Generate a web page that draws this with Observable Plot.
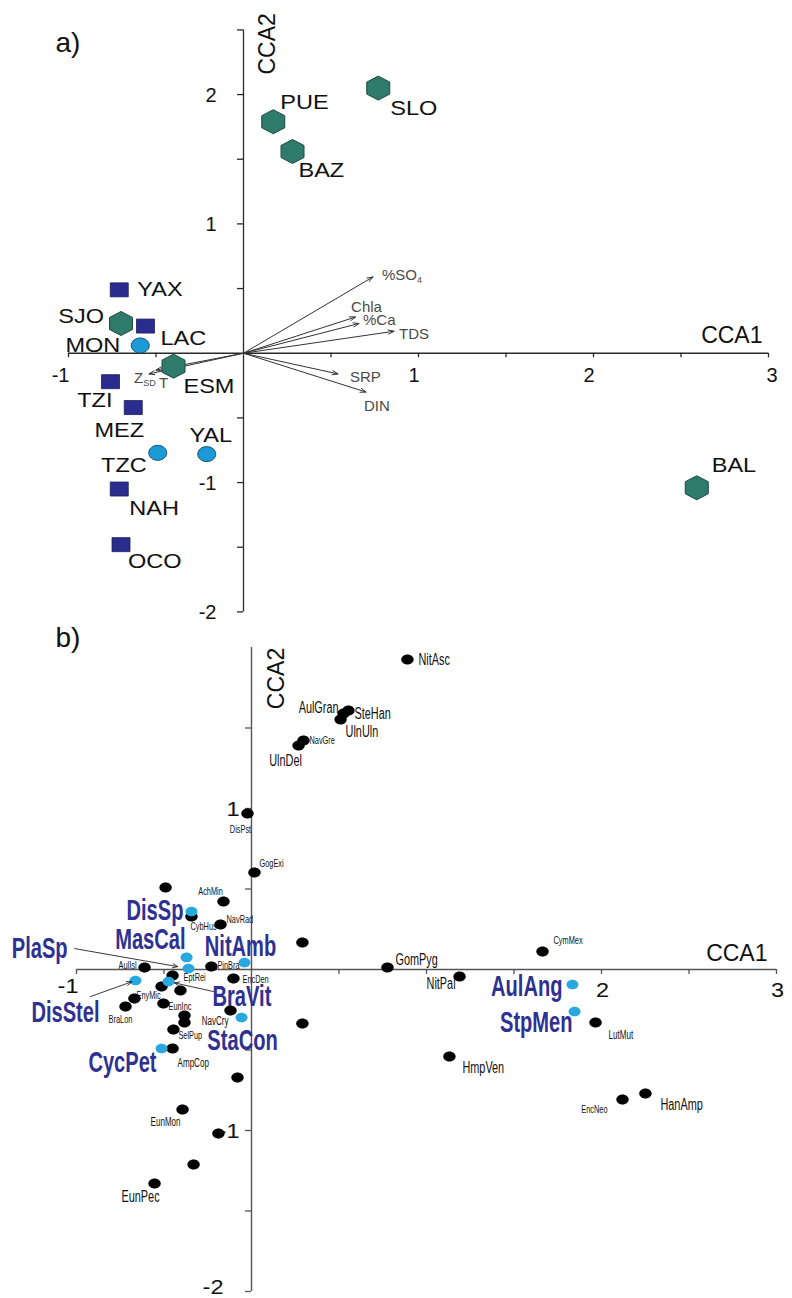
<!DOCTYPE html>
<html><head><meta charset="utf-8">
<script src="https://cdn.jsdelivr.net/npm/d3@7"></script>
<script src="https://cdn.jsdelivr.net/npm/@observablehq/plot@0.6"></script>
<style>
html,body{margin:0;padding:0;background:#fff;}
#wrap{position:relative;width:792px;height:1298px;overflow:hidden;}
#a{position:absolute;left:0;top:0;}
#b{position:absolute;left:0;top:620px;}
svg{overflow:visible;}
</style>
</head><body><div id="wrap"><div id="a"></div><div id="b"></div></div>
<script>
// ---------- DATA: panel a (sites + environmental vectors) ----------
const siteNames = ["SLO","PUE","BAZ","SJO","ESM","BAL","YAX","LAC","TZI","MEZ","NAH","OCO","MON","TZC","YAL"];
const siteCCA1  = [0.77, 0.17, 0.28, -0.70, -0.40, 2.59, -0.71, -0.56, -0.76, -0.63, -0.71, -0.70, -0.59, -0.49, -0.21];
const siteCCA2  = [2.05, 1.79, 1.56, 0.23, -0.10, -1.04, 0.49, 0.21, -0.22, -0.42, -1.05, -1.48, 0.06, -0.77, -0.78];
const siteGroup = ["hex","hex","hex","hex","hex","hex","square","square","square","square","square","square","circle","circle","circle"];

const envNames = ["%SO4","Chla","%Ca","TDS","SRP","DIN","ZSD","T"];
const envCCA1  = [0.74, 0.64, 0.66, 0.86, 0.54, 0.70, -0.54, -0.50];
const envCCA2  = [0.59, 0.28, 0.23, 0.17, -0.16, -0.30, -0.16, -0.13];

// ---------- DATA: panel b (species) ----------
const spNames = ["NitAsc","AulGran","SteHan","UlnUln","NavGre","UlnDel","DisPst","GogExi","","AchMin","CybHus","NavRad","",
  "PinBra","AulIsl","EptRei","EncDen","EnyMic","","","BraLon","EunInc","NavCry","","","SelPup","AmpCop","","EunMon","","","EunPec","",
  "GomPyg","NitPal","CymMex","LutMut","HmpVen","EncNeo","HanAmp"];
const spCCA1 = [0.891,0.526,0.554,0.509,0.297,0.269,-0.023,0.017,-0.491,-0.160,-0.343,-0.177,0.291,
  -0.229,-0.611,-0.451,-0.103,-0.514,-0.406,-0.669,-0.720,-0.503,-0.120,-0.383,-0.383,-0.446,-0.451,-0.080,-0.394,-0.189,-0.331,-0.554,0.291,
  0.777,1.189,1.663,1.966,1.131,2.120,2.251];
const spCCA2 = [1.925,1.590,1.609,1.553,1.422,1.391,0.969,0.602,0.509,0.422,0.329,0.280,0.168,
  0.019,0.012,-0.037,-0.056,-0.106,-0.130,-0.180,-0.230,-0.211,-0.255,-0.286,-0.329,-0.373,-0.491,-0.671,-0.870,-1.019,-1.211,-1.329,-0.335,
  0.012,-0.043,0.112,-0.329,-0.540,-0.807,-0.770];

const keyNames = ["DisSp","MasCal","PlaSp","NitAmb","DisStel","BraVit","StaCon","CycPet","AulAng","StpMen"];
const keyCCA1  = [-0.343,-0.371,-0.360,-0.040,-0.663,-0.474,-0.057,-0.514,1.834,1.846];
const keyCCA2  = [0.360,0.075,0.006,0.043,-0.068,-0.075,-0.298,-0.491,-0.093,-0.261];

// ---------- tick values / labels ----------
const xTicksA = [-1,-0.5,0.5,1,1.5,2,2.5,3];
const yTicksA = [-2,-1.5,-1,-0.5,0.5,1,1.5,2,2.5];
const xTickLabelsA = [-1,1,2,3];
const yTickLabelsA = [2,1,-1,-2];
const xTicksB = [-1,-0.5,0.5,1,1.5,2,2.5,3];
const yTicksB = [-2,-1.5,-1,-0.5,0.5,1,1.5];
const xTickLabelsB = [-1,2,3];
const yTickLabelsB = [1,-1,-2];

// ---------- layout / style (not data) ----------
const F = "Liberation Sans, Arial, Helvetica, sans-serif";
const pxA = {x: 175, y: 129.24};
const pxB = {x: 175, y: 161};

const labelA = {SLO:["start",12,20], PUE:["start",7,-19], BAZ:["start",6,19], SJO:["end",-17,-7], ESM:["start",10,20],
  BAL:["start",15,-22], YAX:["start",18,-1], LAC:["start",15,12], TZI:["end",2,19], MEZ:["middle",-14,23],
  NAH:["start",10,19], OCO:["start",7,17], MON:["end",-20,0], TZC:["end",-11,12], YAL:["middle",4,-19]};
const envLabel = {"%SO4":["start",9,-2], Chla:["middle",11,-10], "%Ca":["start",4,-3], TDS:["start",5,3],
  SRP:["start",12,3], DIN:["start",-2,14], ZSD:["start",-15,4], T:["start",3,13]};

const spLabel = {NitAsc:["start",11,0,16], AulGran:["end",-5,-6,16], SteHan:["start",6,3,16], UlnUln:["start",5,12,16],
  NavGre:["start",6,0,11], UlnDel:["middle",-13,15,16], DisPst:["middle",-7,16,11], GogExi:["start",5,-9,11],
  AchMin:["middle",-13,-10,11], CybHus:["start",-1,10,11], NavRad:["start",6,-5,11], PinBra:["start",6,-1,11],
  AulIsl:["end",-8,-2,11], EptRei:["start",11,2,11], EncDen:["start",9,1,11], EnyMic:["middle",-13,9,11],
  EunInc:["start",5,3,11], BraLon:["middle",-5,13,11], NavCry:["end",-2,11,12], SelPup:["start",5,6,11],
  AmpCop:["start",5,15,12], EunMon:["middle",-17,13,12], EunPec:["middle",-14,13,16], GomPyg:["start",8,-8,16],
  NitPal:["end",-4,7,16], CymMex:["start",11,-11,11], LutMut:["start",13,13,12], HmpVen:["start",13,11,16],
  EncNeo:["end",-15,10,11], HanAmp:["start",15,11,16]};
const keyLabel = {DisSp:["end",-8,-1], MasCal:["end",-1,-18], NitAmb:["middle",-4,-16], StaCon:["middle",1,23],
  CycPet:["end",-5,14], AulAng:["end",-10,2], StpMen:["end",-2,11]};
const callouts = {PlaSp:{from:[-1.011,0.130], inset:11, label:["end",-7,0]},
  DisStel:{from:[-0.920,-0.168], inset:4, label:["middle",-25,16]},
  BraVit:{from:[-0.217,-0.137], inset:6, label:["start",-1,5]}};

// horizontal squeeze/stretch per font size (applied through textLength)
const squeezeBy = {"21":1.12, "16":0.68, "11":0.67, "12":0.67, "30":0.67};

// ---------- custom symbols ----------
function ellipseSym(rx, ry){ const k=0.5523; return {draw(c){ c.moveTo(rx,0);
  c.bezierCurveTo(rx,ry*k,rx*k,ry,0,ry); c.bezierCurveTo(-rx*k,ry,-rx,ry*k,-rx,0);
  c.bezierCurveTo(-rx,-ry*k,-rx*k,-ry,0,-ry); c.bezierCurveTo(rx*k,-ry,rx,-ry*k,rx,0); c.closePath(); }}; }
function rectSym(w,h){ return {draw(c){ c.rect(-w/2,-h/2,w,h); }}; }
function hexSym(w,h){ return {draw(c){ c.moveTo(0,-h); c.lineTo(w,-h/2); c.lineTo(w,h/2); c.lineTo(0,h); c.lineTo(-w,h/2); c.lineTo(-w,-h/2); c.closePath(); }}; }

// ---------- rows ----------
const sites = siteNames.map((n,i)=>({name:n, x:siteCCA1[i], y:siteCCA2[i], group:siteGroup[i]}));
const env = envNames.map((n,i)=>({name:n, x:envCCA1[i], y:envCCA2[i]}));
const species = spNames.map((n,i)=>({name:n, x:spCCA1[i], y:spCCA2[i]}));
const keys = keyNames.map((n,i)=>({name:n, x:keyCCA1[i], y:keyCCA2[i]}));

// ---------- PANEL A ----------
const axA = "#2a2a2a";
const marksA = [
  Plot.ruleY([0], {x1:-1, x2:3, stroke:axA, strokeWidth:1.3}),
  Plot.ruleX([0], {y1:-2, y2:2.5, stroke:axA, strokeWidth:1.3}),
  Plot.ruleX(xTicksA, {x:d=>d, y1:0, y2:-4.5/pxA.y, stroke:axA, strokeWidth:1.3}),
  Plot.ruleY(yTicksA, {y:d=>d, x1:0, x2:-6/pxA.x, stroke:axA, strokeWidth:1.3}),
  Plot.arrow(env, {x1:0, y1:0, x2:"x", y2:"y", stroke:"#333", strokeWidth:1, headLength:9, headAngle:40}),
  Plot.dot(sites.filter(d=>d.group==="hex"), {x:"x", y:"y", symbol:hexSym(11.5,12), r:10, fill:"#2e7b6b", stroke:"#1d4a40", strokeWidth:1}),
  Plot.dot(sites.filter(d=>d.group==="square"), {x:"x", y:"y", symbol:rectSym(18,14), r:8, fill:"#2b2d8e", stroke:"#1c1c5c", strokeWidth:0.8}),
  Plot.dot(sites.filter(d=>d.group==="circle"), {x:"x", y:"y", symbol:ellipseSym(9,7.5), r:8, fill:"#1b9ad7", stroke:"#16506f", strokeWidth:1}),
  ...sites.map(d=>{ const p=labelA[d.name]; return Plot.text([d], {x:"x", y:"y", text:"name", textAnchor:p[0], dx:p[1], dy:p[2], fontSize:21, fontFamily:F, fill:"#111"}); }),
  ...env.map(d=>{ const p=envLabel[d.name]; return Plot.text([d], {x:"x", y:"y", text:"name", textAnchor:p[0], dx:p[1], dy:p[2], fontSize:15, fontFamily:F, fill:"#4a4a4a"}); }),
  ...xTickLabelsA.map(v=>Plot.text([v], {x:d=>d, y:0, text:d=>String(d), textAnchor: v===3?"start":"end", dx: v===3?-2:1, dy:22, fontSize:20, fontFamily:F, fill:"#111"})),
  Plot.text(yTickLabelsA, {x:0, y:d=>d, text:d=>String(d), textAnchor:"end", dx:-27, dy:1, fontSize:20, fontFamily:F, fill:"#111"}),
  Plot.text(["CCA1"], {x:3, y:0, text:d=>d, textAnchor:"end", dx:-6, dy:-18, fontSize:23, fontFamily:F, fill:"#111"}),
  Plot.text(["CCA2"], {x:0, y:2.5, text:d=>d, rotate:-90, dx:24, dy:14, fontSize:23, fontFamily:F, fill:"#111"}),
  Plot.text(["a)"], {x:-1, y:2.5, text:d=>d, textAnchor:"start", dx:-13, dy:13, fontSize:28, fontFamily:F, fill:"#111"})
];
const plotA = Plot.plot({
  width:792, height:620, marginLeft:68, marginRight:24, marginTop:29.4, marginBottom:8.6,
  x:{domain:[-1,3], axis:null}, y:{domain:[-2,2.5], axis:null},
  style:{background:"transparent", overflow:"visible", fontFamily:F},
  marks: marksA
});

// ---------- PANEL B ----------
const axB = "#555";
const marksB = [
  Plot.ruleY([0], {x1:-1, x2:3, stroke:axB, strokeWidth:1.4}),
  Plot.ruleX([0], {y1:-2, y2:2, stroke:axB, strokeWidth:1.4}),
  Plot.ruleX(xTicksB, {x:d=>d, y1:0, y2:-5/pxB.y, stroke:axB, strokeWidth:1.3}),
  Plot.ruleY(yTicksB, {y:d=>d, x1:0, x2:-6/pxB.x, stroke:axB, strokeWidth:1.3}),
  Plot.dot(species, {x:"x", y:"y", symbol:ellipseSym(6.2,5), r:6, fill:"#000", stroke:"none"}),
  Plot.dot(keys, {x:"x", y:"y", symbol:ellipseSym(6,4.8), r:6, fill:"#29a8e0", stroke:"none"}),
  ...species.filter(d=>d.name).map(d=>{ const p=spLabel[d.name]; return Plot.text([d], {x:"x", y:"y", text:"name", textAnchor:p[0], dx:p[1], dy:p[2], fontSize:p[3], fontFamily:F, fill:"#111"}); }),
  ...keys.filter(d=>keyLabel[d.name]).map(d=>{ const p=keyLabel[d.name]; return Plot.text([d], {x:"x", y:"y", text:"name", textAnchor:p[0], dx:p[1], dy:p[2], fontSize:30, fontWeight:"bold", fontFamily:F, fill:"#2e3192"}); }),
  ...keys.filter(d=>callouts[d.name]).flatMap(d=>{ const c=callouts[d.name]; const s={name:d.name, x:c.from[0], y:c.from[1]};
    return [
      Plot.arrow([d], {x1:c.from[0], y1:c.from[1], x2:"x", y2:"y", insetEnd:c.inset, stroke:"#222", strokeWidth:0.9, headLength:9, headAngle:45}),
      Plot.text([s], {x:"x", y:"y", text:"name", textAnchor:c.label[0], dx:c.label[1], dy:c.label[2], fontSize:30, fontWeight:"bold", fontFamily:F, fill:"#2e3192"})
    ]; }),
  Plot.text(xTickLabelsB.filter(v=>v<0), {x:d=>d, y:0, text:d=>String(d), textAnchor:"end", dx:2, dy:17, fontSize:21, fontFamily:F, fill:"#111"}),
  Plot.text(xTickLabelsB.filter(v=>v>0), {x:d=>d, y:0, text:d=>String(d), textAnchor:"middle", dx:1, dy:21, fontSize:21, fontFamily:F, fill:"#111"}),
  Plot.text(yTickLabelsB.filter(v=>v>-2), {x:0, y:d=>d, text:d=>String(d), textAnchor:"end", dx:-12, dy:1, fontSize:21, fontFamily:F, fill:"#111"}),
  Plot.text(yTickLabelsB.filter(v=>v===-2), {x:0, y:d=>d, text:d=>String(d), textAnchor:"end", dx:-28, dy:-4, fontSize:21, fontFamily:F, fill:"#111"}),
  Plot.text(["CCA1"], {x:3, y:0, text:d=>d, textAnchor:"end", dx:-9, dy:-16, fontSize:23, fontFamily:F, fill:"#111"}),
  Plot.text(["CCA2"], {x:0, y:2, text:d=>d, rotate:-90, dx:25, dy:31, fontSize:23, fontFamily:F, fill:"#111"}),
  Plot.text(["b)"], {x:-1, y:2, text:d=>d, textAnchor:"start", dx:-21, dy:-9, fontSize:28, fontFamily:F, fill:"#111"})
];
const plotB = Plot.plot({
  width:792, height:678, marginLeft:76, marginRight:16, marginTop:27, marginBottom:7,
  x:{domain:[-1,3], axis:null}, y:{domain:[-2,2], axis:null},
  style:{background:"transparent", overflow:"visible", fontFamily:F},
  marks: marksB
});

// ---------- post-processing: subscripts and condensed text ----------
const ctx = document.createElement("canvas").getContext("2d");
function sub(t, base, s){
  t.textContent = base;
  const ts = document.createElementNS("http://www.w3.org/2000/svg","tspan");
  ts.setAttribute("font-size","9"); ts.setAttribute("dy","0.35em"); ts.textContent = s;
  t.appendChild(ts);
}
function post(svg){
  svg.querySelectorAll("text").forEach(t=>{
    if (t.textContent === "%SO4") sub(t, "%SO", "4");
    else if (t.textContent === "ZSD") sub(t, "Z", "SD");
  });
  svg.querySelectorAll("text").forEach(t=>{
    const g = t.closest("g[font-size]");
    if (!g) return;
    const size = g.getAttribute("font-size");
    const s = squeezeBy[size];
    if (!s) return;
    const fw = g.getAttribute("font-weight") || "normal";
    ctx.font = `${fw} ${size}px "Liberation Sans", Arial, sans-serif`;
    const w = ctx.measureText(t.textContent).width;
    t.setAttribute("textLength", (w*s).toFixed(2));
    t.setAttribute("lengthAdjust", "spacingAndGlyphs");
  });
}
post(plotA); post(plotB);
document.getElementById("a").appendChild(plotA);
document.getElementById("b").appendChild(plotB);
</script>
</body></html>
